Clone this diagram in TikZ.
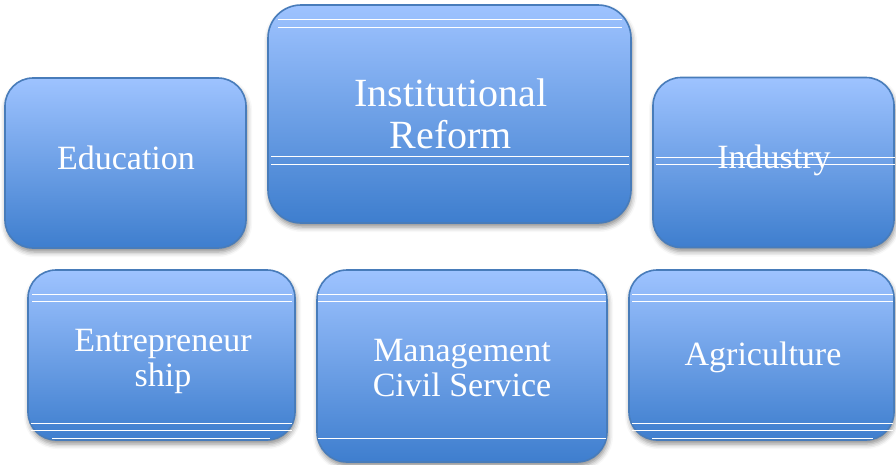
\documentclass[tikz,border=0pt]{standalone}
\usepackage{fontspec}
\setmainfont{Liberation Serif}
\usetikzlibrary{shadows.blur}
\definecolor{boxtop}{RGB}{158,195,255}
\definecolor{boxbot}{RGB}{62,126,206}
\definecolor{boxedge}{RGB}{72,124,186}
\begin{document}
\begin{tikzpicture}[x=1pt,y=-1pt,
  box/.style={draw=boxedge, line width=1.6pt, top color=boxtop, bottom color=boxbot,
    inner sep=0pt,
    blur shadow={shadow xshift=1pt, shadow yshift=-4pt, shadow blur radius=5pt, shadow opacity=45}},
  txt/.style={inner sep=0pt, align=center, text=white, font=\fontsize{34}{35}\selectfont},
  wline/.style={draw=white, line width=1pt}]
\useasboundingbox (0,0) rectangle (896,464);
\node[box, rounded corners=28pt, minimum width=241pt, minimum height=170pt] (edu) at (125.5,163) {};
\node[box, rounded corners=33pt, minimum width=363pt, minimum height=218pt] (inst) at (449.5,114) {};
\node[box, rounded corners=28pt, minimum width=241pt, minimum height=170pt] (ind) at (773.5,162.5) {};
\node[box, rounded corners=28pt, minimum width=267pt, minimum height=170pt] (ent) at (161.5,355) {};
\node[box, rounded corners=30pt, minimum width=290pt, minimum height=192pt] (man) at (462,366) {};
\node[box, rounded corners=28pt, minimum width=265pt, minimum height=170pt] (agr) at (761.5,355) {};
% texts
\node[txt] (edut) at (126,158) {Education};
\node[txt, font=\fontsize{40}{42}\selectfont] (instt) at (451,114) {Institutional\\Reform};
\node[txt] (indt) at (774,160) {Industry};
\node[txt] (entt) at (163,361) {Entrepreneur\\ship};
\node[txt] (mant) at (462,368) {Management\\Civil Service};
\node[txt] (agrt) at (763,357) {Agriculture};
% decorative white lines
\draw[wline] (278,19) -- (622,19) (278,27) -- (622,27) (271,156) -- (629,156) (271,164) -- (629,164);
\draw[wline] (656,157) -- (895,157) (656,164) -- (895,164);
\draw[wline] (32,294) -- (292,294) (32,301) -- (292,301) (31,423) -- (292,423) (31,430) -- (292,430) (52,438) -- (270,438);
\draw[wline] (318,294) -- (606,294) (318,301) -- (606,301) (318,438) -- (606,438);
\draw[wline] (632,294) -- (893,294) (632,301) -- (893,301) (632,423) -- (893,423) (632,430) -- (893,430) (652,438) -- (873,438);
\end{tikzpicture}
\end{document}
